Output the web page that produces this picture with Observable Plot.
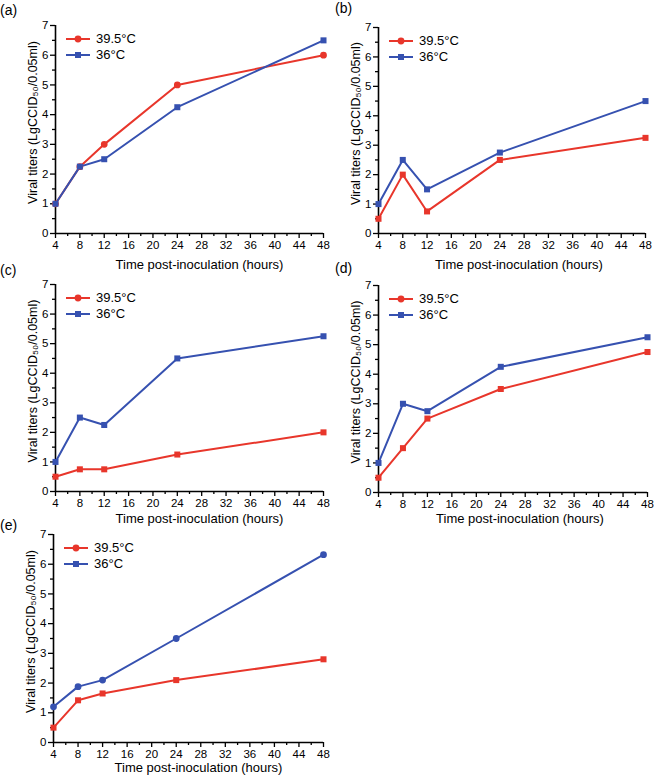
<!DOCTYPE html>
<html>
<head>
<meta charset="utf-8">
<script src="https://cdn.jsdelivr.net/npm/d3@7"></script>
<script src="https://cdn.jsdelivr.net/npm/@observablehq/plot@0.6"></script>
<style>
  body { margin: 0; background: #fff; font-family: "Liberation Sans", Arial, sans-serif; }
  #fig { position: relative; width: 660px; height: 779px; overflow: hidden; }
  .panel { position: absolute; }
  .panel svg { overflow: visible; }
  .plabel { position: absolute; font-size: 14px; color: #000; }
  .legend { position: absolute; font-size: 13px; color: #000; line-height: 16px; }
  .legend div { display: flex; align-items: center; height: 16px; }
  .legend svg { margin-right: 6px; }
</style>
</head>
<body>
<div id="fig"></div>
<script>
// ---- data ----
const hours = [4, 8, 12, 24, 48];
const seriesNames = ["39.5°C", "36°C"];
const seriesColors = ["#e8362b", "#3651b0"];
const panelNames = ["(a)", "(b)", "(c)", "(d)", "(e)"];

const a_hot = [1, 2.25, 3, 5, 6];
const a_cool = [1, 2.25, 2.5, 4.25, 6.5];
const b_hot = [0.5, 2, 0.75, 2.5, 3.25];
const b_cool = [1, 2.5, 1.5, 2.75, 4.5];
const c_hot = [0.5, 0.75, 0.75, 1.25, 2];
const c_cool = [1, 2.5, 2.25, 4.5, 5.25];
const d_hot = [0.5, 1.5, 2.5, 3.5, 4.75];
const d_cool = [1, 3, 2.75, 4.25, 5.25];
const e_hot = [0.5, 1.42, 1.65, 2.1, 2.8];
const e_cool = [1.2, 1.88, 2.1, 3.5, 6.32];

// marker symbol per panel [hot, cool]
const markerSymbols = [
  ["circle", "square"],
  ["square", "square"],
  ["square", "square"],
  ["square", "square"],
  ["square", "circle"]
];

const xTicks = [4, 8, 12, 16, 20, 24, 28, 32, 36, 40, 44, 48];
const xMinor = [6, 10, 14, 18, 22, 26, 30, 34, 38, 42, 46];
const yTicks = [0, 1, 2, 3, 4, 5, 6, 7];
const yMinor = [0.5, 1.5, 2.5, 3.5, 4.5, 5.5, 6.5];
const xTitle = "Time post-inoculation (hours)";
const yTitle = "Viral titers (LgCCID₅₀/0.05ml)";

const panelData = [
  [a_hot, a_cool], [b_hot, b_cool], [c_hot, c_cool], [d_hot, d_cool], [e_hot, e_cool]
];

// ---- layout (positions only) ----
const layout = [
  {left: 0,   top: 0,   ml: 55, mt: 25, mr: 7,  h: 208, xlo: 26, xdx: 10, lx: 0, ly: 2},
  {left: 330, top: 0,   ml: 48, mt: 27, mr: 15, h: 206, xlo: 26, xdx: 7,  lx: 5, ly: 0},
  {left: 0,   top: 255, ml: 55, mt: 29, mr: 7,  h: 207, xlo: 22, xdx: 10, lx: 0, ly: 262},
  {left: 330, top: 255, ml: 48, mt: 30, mr: 13, h: 207, xlo: 21, xdx: 7,  lx: 5, ly: 260},
  {left: 0,   top: 510, ml: 53, mt: 24, mr: 7,  h: 208, xlo: 20, xdx: 10, lx: 0, ly: 517}
];

const fig = document.getElementById("fig");

panelData.forEach((pair, i) => {
  const L = layout[i];
  const rows = [];
  pair.forEach((vals, s) => {
    vals.forEach((v, k) => rows.push({hour: hours[k], titer: v, series: seriesNames[s], sym: markerSymbols[i][s]}));
  });
  const H = 290;
  const mb = H - L.mt - L.h;
  const plot = Plot.plot({
    width: 330,
    height: H,
    marginLeft: L.ml,
    marginTop: L.mt,
    marginRight: L.mr,
    marginBottom: mb,
    style: {fontFamily: "'Liberation Sans', Arial, sans-serif", fontSize: "11.5px", color: "#000", background: "transparent", overflow: "visible"},
    x: {domain: [4, 48]},
    y: {domain: [0, 7]},
    color: {domain: seriesNames, range: seriesColors},
    symbol: {domain: ["circle", "square"], range: ["circle", "square"]},
    marks: [
      Plot.axisX({ticks: xMinor, tickSize: 3, text: null, label: null, strokeWidth: 1.3}),
      Plot.axisX({ticks: xTicks, tickSize: 5, tickPadding: 2, tickFormat: d3.format("d"), strokeWidth: 1.3,
        label: null, fontSize: 11.5}),
      Plot.axisY({ticks: yMinor, tickSize: 3, text: null, label: null, strokeWidth: 1.3}),
      Plot.axisY({ticks: yTicks, tickSize: 5, tickPadding: 2, tickFormat: d3.format("d"), strokeWidth: 1.3,
        label: null, fontSize: 11.5}),
      Plot.text([xTitle], {frameAnchor: "bottom", lineAnchor: "top", dy: L.xlo, dx: L.xdx, fontSize: 13, fill: "#000"}),
      Plot.text([yTitle], {frameAnchor: "left", textAnchor: "middle", lineAnchor: "bottom", rotate: -90, dx: -19, dy: -7, fontSize: 12.5, fill: "#000"}),
      Plot.ruleY([0], {stroke: "#000", strokeWidth: 1.6}),
      Plot.ruleX([4], {y1: 0, y2: 7, stroke: "#000", strokeWidth: 1.6}),
      Plot.line(rows, {x: "hour", y: "titer", z: "series", stroke: "series", strokeWidth: 2}),
      Plot.dot(rows, {x: "hour", y: "titer", fill: "series", symbol: "sym", r: 3.4, stroke: null})
    ]
  });
  const wrap = document.createElement("div");
  wrap.className = "panel";
  wrap.style.left = L.left + "px";
  wrap.style.top = L.top + "px";
  wrap.appendChild(plot);
  fig.appendChild(wrap);

  // panel label
  const pl = document.createElement("div");
  pl.className = "plabel";
  pl.textContent = panelNames[i];
  pl.style.left = (L.left + L.lx) + "px";
  pl.style.top = L.ly + "px";
  fig.appendChild(pl);

  // legend
  const lg = document.createElement("div");
  lg.className = "legend";
  lg.style.left = (L.left + L.ml + 11) + "px";
  lg.style.top = (L.top + L.mt + 6) + "px";
  seriesNames.forEach((name, s) => {
    const row = document.createElement("div");
    const sym = s === 0
      ? `<circle cx="12" cy="8" r="3.4" fill="${seriesColors[s]}"/>`
      : `<rect x="9" y="5" width="6" height="6" fill="${seriesColors[s]}"/>`;
    row.innerHTML = `<svg width="24" height="16"><line x1="0" x2="24" y1="8" y2="8" stroke="${seriesColors[s]}" stroke-width="2"/>${sym}</svg><span>${name}</span>`;
    lg.appendChild(row);
  });
  fig.appendChild(lg);
});
</script>
</body>
</html>
